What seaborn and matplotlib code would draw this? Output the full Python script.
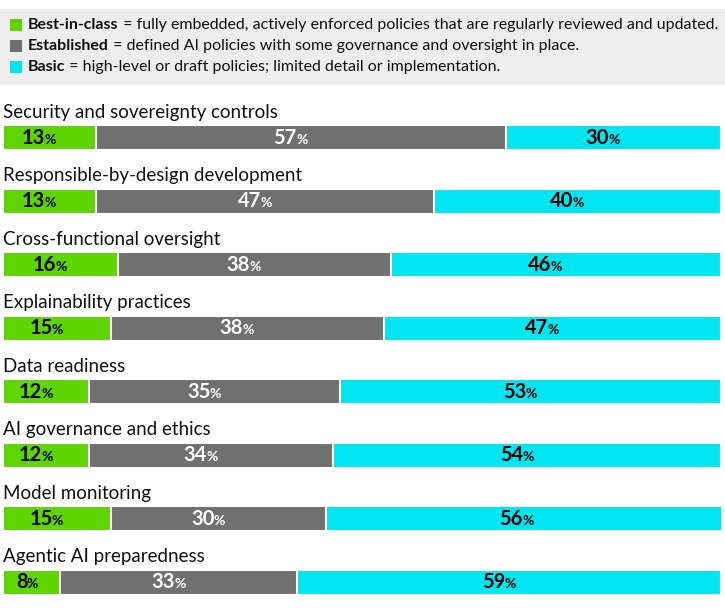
import pandas as pd
import matplotlib
matplotlib.use("Agg")
import matplotlib.pyplot as plt
import matplotlib.transforms as mtransforms
import seaborn as sns

categories = [
    "Security and sovereignty controls",
    "Responsible-by-design development",
    "Cross-functional oversight",
    "Explainability practices",
    "Data readiness",
    "AI governance and ethics",
    "Model monitoring",
    "Agentic AI preparedness",
]
best = [13, 13, 16, 15, 12, 12, 15, 8]
established = [57, 47, 38, 38, 35, 34, 30, 33]
basic = [30, 40, 46, 47, 53, 54, 56, 59]

legend_bold = ["Best-in-class", "Established", "Basic"]
legend_rest = [
    " = fully embedded, actively enforced policies that are regularly reviewed and updated.",
    " = defined AI policies with some governance and oversight in place.",
    " = high-level or draft policies; limited detail or implementation.",
]

GREEN = "#5ED400"
GRAY = "#707070"
CYAN = "#00E6F0"
colors = [GREEN, GRAY, CYAN]

df = pd.DataFrame({"Category": categories, "Best": best,
                   "Established": established, "Basic": basic})
df["c1"] = df["Best"]
df["c2"] = df["Best"] + df["Established"]
df["c3"] = df["c2"] + df["Basic"]

sns.set_style("white")
plt.rcParams["font.family"] = ["Lato", "DejaVu Sans"]

W, H = 725, 613
fig = plt.figure(figsize=(W / 100, H / 100), dpi=100)

# legend box
fig.patches.append(plt.Rectangle((0, 1 - 85 / H), 1, 76 / H, transform=fig.transFigure,
                                 facecolor="#EDEDED", edgecolor="none", zorder=0))
renderer = fig.canvas.get_renderer()
for i, (b, r) in enumerate(zip(legend_bold, legend_rest)):
    yc = 25 + i * 21
    fig.patches.append(plt.Rectangle((10 / W, 1 - (yc + 6) / H), 12 / W, 12 / H,
                                     transform=fig.transFigure, facecolor=colors[i],
                                     edgecolor="none"))
    t = fig.text(28 / W, 1 - yc / H, b, fontsize=11.5, fontweight="bold",
                 va="center", ha="left", color="#111111")
    bb = t.get_window_extent(renderer)
    fig.text(bb.x1 / W, 1 - yc / H, r, fontsize=11.5, va="center", ha="left",
             color="#111111")

ax = fig.add_axes([3 / W, 1 - 600 / H, 718 / W, 505 / H])
bar_w = 25 / 63.5
for col, c in zip(["c3", "c2", "c1"], [CYAN, GRAY, GREEN]):
    sns.barplot(data=df, x=col, y="Category", color=c, saturation=1, orient="h",
                width=bar_w, edgecolor="white", linewidth=1.5, ax=ax)

ax.set_xlim(0, 100)
ax.set_ylim(7.28, -0.67)
ax.set_xticks([])
ax.set_yticks([])
ax.set_xlabel("")
ax.set_ylabel("")
sns.despine(ax=ax, left=True, bottom=True)

off_l = mtransforms.offset_copy(ax.transData, fig=fig, x=-3, y=0, units="points")
off_r = mtransforms.offset_copy(ax.transData, fig=fig, x=-3.5, y=-1.5, units="points")
for i, row in df.iterrows():
    ax.text(0, i - 0.40, row["Category"], fontsize=13.5, va="center", ha="left",
            color="#111111")
    starts = [0, row["c1"], row["c2"]]
    vals = [row["Best"], row["Established"], row["Basic"]]
    for s, v, c in zip(starts, vals, colors):
        tc = "white" if c == GRAY else "black"
        xc = s + v / 2
        ax.text(xc, i, str(v), transform=off_l, fontsize=14.5, fontweight="bold",
                ha="right", va="center", color=tc)
        ax.text(xc, i, "%", transform=off_r, fontsize=10, fontweight="bold",
                ha="left", va="center", color=tc)

fig.savefig("out.png", dpi=100)
